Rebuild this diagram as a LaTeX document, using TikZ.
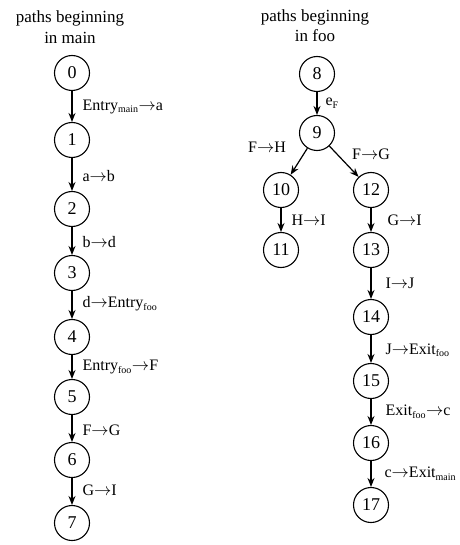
\documentclass[tikz,border=0pt]{standalone}
\usepackage{fontspec}
\setmainfont{Liberation Serif}
\usetikzlibrary{arrows.meta}
\tikzset{
  st/.style={circle,draw,line width=1.1pt,minimum size=35pt,inner sep=0pt,font=\fontsize{18}{18}\selectfont},
  ed/.style={-{Stealth[length=9pt,width=7pt]},line width=1.2pt},
  lb/.style={anchor=west,inner sep=0pt,font=\fontsize{16}{16}\selectfont},
  ttl/.style={inner sep=0pt,font=\fontsize{17}{17}\selectfont}
}
\newcommand{\sbs}[1]{\textsubscript{\fontsize{10}{10}\selectfont #1}}
\newcommand{\arr}{$\rightarrow$}
\begin{document}
\begin{tikzpicture}[x=1pt,y=-1pt]
\useasboundingbox (0,0) rectangle (459,545);
% titles
\node[ttl] (t1a) at (70,18) {paths beginning};
\node[ttl] (t1b) at (70,38) {in main};
\node[ttl] (t2a) at (315,17) {paths beginning};
\node[ttl] (t2b) at (315,36) {in foo};
% left column
\node[st] (n0) at (72,73) {0};
\node[st] (n1) at (72,140) {1};
\node[st] (n2) at (72,209) {2};
\node[st] (n3) at (72,273) {3};
\node[st] (n4) at (72,337) {4};
\node[st] (n5) at (72,397) {5};
\node[st] (n6) at (72,460) {6};
\node[st] (n7) at (72,523) {7};
\draw[ed] (n0) -- (n1) node[lb,pos=0.5,xshift=10pt] {Entry\sbs{main}\arr a};
\draw[ed] (n1) -- (n2) node[lb,pos=0.55,xshift=10pt] {a\arr b};
\draw[ed] (n2) -- (n3) node[lb,pos=0.55,xshift=10pt] {b\arr d};
\draw[ed] (n3) -- (n4) node[lb,pos=0.45,xshift=10pt] {d\arr Entry\sbs{foo}};
\draw[ed] (n4) -- (n5) node[lb,pos=0.5,xshift=10pt] {Entry\sbs{foo}\arr F};
\draw[ed] (n5) -- (n6) node[lb,pos=0.55,xshift=10pt] {F\arr G};
\draw[ed] (n6) -- (n7) node[lb,pos=0.45,xshift=10pt] {G\arr I};
% right column
\node[st] (n8) at (317,74) {8};
\node[st] (n9) at (317,133) {9};
\node[st] (n10) at (281,190) {10};
\node[st] (n12) at (371,190) {12};
\node[st] (n11) at (281,250) {11};
\node[st] (n13) at (371,250) {13};
\node[st] (n14) at (371,317) {14};
\node[st] (n15) at (371,381) {15};
\node[st] (n16) at (371,443) {16};
\node[st] (n17) at (371,505) {17};
\draw[ed] (n8) -- (n9) node[lb,pos=0.5,xshift=8pt] {e\sbs{F}};
\draw[ed] (n9) -- (n10);
\draw[ed] (n9) -- (n12);
\node[lb,anchor=center] (lfh) at (267,147) {F\arr H};
\node[lb,anchor=center] (lfg) at (371,154) {F\arr G};
\draw[ed] (n10) -- (n11) node[lb,pos=0.5,xshift=10pt] {H\arr I};
\draw[ed] (n12) -- (n13) node[lb,pos=0.5,xshift=16pt] {G\arr I};
\draw[ed] (n13) -- (n14) node[lb,pos=0.5,xshift=14pt] {I\arr J};
\draw[ed] (n14) -- (n15) node[lb,pos=0.55,xshift=14pt] {J\arr Exit\sbs{foo}};
\draw[ed] (n15) -- (n16) node[lb,pos=0.5,xshift=14pt] {Exit\sbs{foo}\arr c};
\draw[ed] (n16) -- (n17) node[lb,pos=0.5,xshift=13pt] {c\arr Exit\sbs{main}};
\end{tikzpicture}
\end{document}
